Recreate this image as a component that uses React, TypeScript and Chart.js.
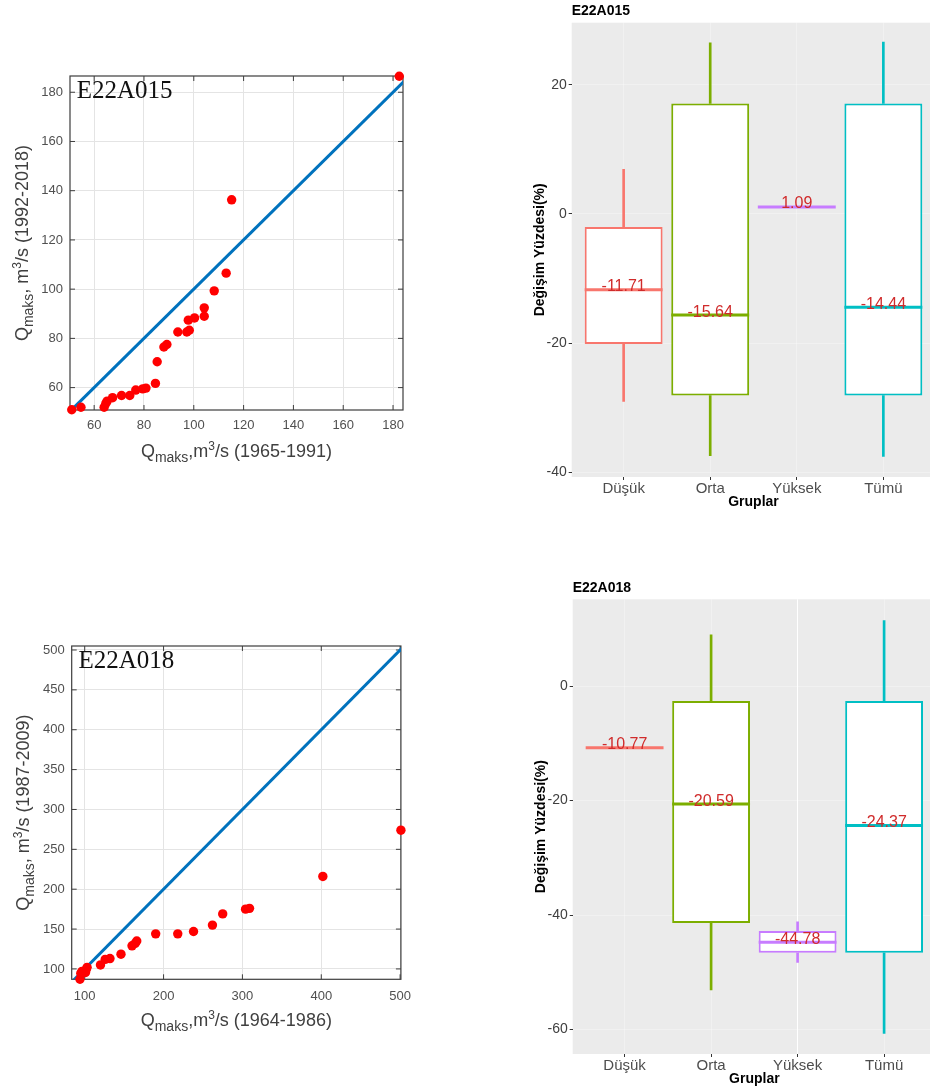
import React, { useEffect, useRef } from "react";
import { Chart, registerables } from "chart.js";
Chart.register(...registerables);

const SANS = '"Liberation Sans", Arial, sans-serif';
const SERIF = '"Liberation Serif", "Times New Roman", serif';

// ---------- Scatter panel A : E22A015 ----------
const scatterATitle = "E22A015";
const scatterAX = [51, 54.7, 64, 64.7, 65.2, 67.4, 71, 74.3, 76.7, 79.5, 80.8, 84.6, 85.3, 88, 89.2, 93.6, 97.2, 98.2, 97.8, 100.3, 104.2, 104.2, 108.2, 113, 115.2, 182.5];
const scatterAY = [51, 52, 52, 53.6, 54.5, 55.9, 56.8, 56.8, 59, 59.5, 59.8, 61.7, 70.5, 76.5, 77.5, 82.6, 82.6, 83.3, 87.4, 88.3, 89, 92.4, 99.3, 106.5, 136.3, 186.5];
const scatterAXTicks = [60, 80, 100, 120, 140, 160, 180];
const scatterAYTicks = [60, 80, 100, 120, 140, 160, 180];
const scatterAXRange = [50.3, 184];
const scatterAYRange = [50.9, 186.6];
const scatterALine = [50, 190];
const scatterAXLabel = ["Q", "maks", ",m", "3", "/s (1965-1991)"];
const scatterAYLabel = ["Q", "maks", ", m", "3", "/s (1992-2018)"];

// ---------- Scatter panel B : E22A018 ----------
const scatterBTitle = "E22A018";
const scatterBX = [94, 95, 96.5, 101, 102, 103, 120, 126, 132, 146, 160, 164, 166, 190, 218, 238, 262, 275, 304, 309, 402, 501];
const scatterBY = [87, 94.5, 97, 95.5, 99.5, 102, 105, 112, 113, 118.5, 129, 132, 135, 144, 144, 147, 155, 169, 175, 176, 216, 274];
const scatterBXTicks = [100, 200, 300, 400, 500];
const scatterBYTicks = [100, 150, 200, 250, 300, 350, 400, 450, 500];
const scatterBXRange = [83.5, 501];
const scatterBYRange = [87, 505];
const scatterBLine = [80, 510];
const scatterBXLabel = ["Q", "maks", ",m", "3", "/s (1964-1986)"];
const scatterBYLabel = ["Q", "maks", ", m", "3", "/s (1987-2009)"];

// ---------- Box plots ----------
const groups = ["Düşük", "Orta", "Yüksek", "Tümü"];
const groupColors = ["#F8766D", "#7CAE00", "#C77CFF", "#00BFC4"];
const boxYTitle = "Değişim Yüzdesi(%)";
const boxXTitle = "Gruplar";

const boxATitle = "E22A015";
const boxALow: (number | null)[] = [-29.0, -37.4, null, -37.5];
const boxAQ1: (number | null)[] = [-20.1, -28.1, null, -28.1];
const boxAMedian = [-11.71, -15.64, 1.09, -14.44];
const boxAQ3: (number | null)[] = [-2.0, 17.1, null, 17.1];
const boxAHigh: (number | null)[] = [6.9, 26.5, null, 26.6];
const boxAYTicks = [-40, -20, 0, 20];
const boxAYRange = [-40.7, 29.6];

const boxBTitle = "E22A018";
const boxBLow: (number | null)[] = [null, -53.1, -48.3, -60.7];
const boxBQ1: (number | null)[] = [null, -41.4, -46.6, -46.6];
const boxBMedian = [-10.77, -20.59, -44.78, -24.37];
const boxBQ3: (number | null)[] = [null, -2.6, -42.8, -2.6];
const boxBHigh: (number | null)[] = [null, 9.0, -41.2, 11.5];
const boxBYTicks = [-60, -40, -20, 0];
const boxBYRange = [-64.3, 15.2];

// ---------- helpers ----------
function drawRich(ctx: CanvasRenderingContext2D, parts: string[], cx: number, cy: number, rot: number, color: string) {
  const segs = [
    { t: parts[0], size: 18, dy: 0 },
    { t: parts[1], size: 14, dy: 5 },
    { t: parts[2], size: 18, dy: 0 },
    { t: parts[3], size: 12, dy: -7 },
    { t: parts[4], size: 18, dy: 0 },
  ];
  ctx.save();
  ctx.translate(cx, cy);
  ctx.rotate(rot);
  ctx.fillStyle = color;
  ctx.textAlign = "left";
  ctx.textBaseline = "alphabetic";
  let total = 0;
  const ws = segs.map((s) => {
    ctx.font = `${s.size}px ${SANS}`;
    const w = ctx.measureText(s.t).width;
    total += w;
    return w;
  });
  let x = -total / 2;
  segs.forEach((s, i) => {
    ctx.font = `${s.size}px ${SANS}`;
    ctx.fillText(s.t, x, s.dy);
    x += ws[i];
  });
  ctx.restore();
}

type ScatterSpec = {
  title: string; xs: number[]; ys: number[]; xTicks: number[]; yTicks: number[];
  xRange: number[]; yRange: number[]; line: number[]; xLabel: string[]; yLabel: string[];
  padTop: number; padRight: number; yW: number; xH: number; tickSize: number; xPad: number;
};

function scatterConfig(s: ScatterSpec): any {
  const deco = {
    id: "scatterDeco",
    beforeDatasetsDraw(chart: any) {
      const { ctx, chartArea: a, scales } = chart;
      ctx.save();
      ctx.strokeStyle = "#3d3d3d";
      ctx.lineWidth = 1.2;
      ctx.strokeRect(a.left, a.top, a.right - a.left, a.bottom - a.top);
      ctx.lineWidth = 1;
      ctx.beginPath();
      s.xTicks.forEach((v) => {
        const px = scales.x.getPixelForValue(v);
        ctx.moveTo(px, a.bottom); ctx.lineTo(px, a.bottom - 5);
        ctx.moveTo(px, a.top); ctx.lineTo(px, a.top + 5);
      });
      s.yTicks.forEach((v) => {
        const py = scales.y.getPixelForValue(v);
        ctx.moveTo(a.left, py); ctx.lineTo(a.left + 5, py);
        ctx.moveTo(a.right, py); ctx.lineTo(a.right - 5, py);
      });
      ctx.stroke();
      ctx.restore();
    },
    afterDraw(chart: any) {
      const { ctx, chartArea: a } = chart;
      ctx.save();
      ctx.font = `25px ${SERIF}`;
      ctx.fillStyle = "#111";
      ctx.textAlign = "left";
      ctx.textBaseline = "alphabetic";
      ctx.fillText(s.title, a.left + 6.7, a.top + 22.3);
      ctx.restore();
      drawRich(ctx, s.xLabel, (a.left + a.right) / 2, a.bottom + 47, 0, "#404040");
      drawRich(ctx, s.yLabel, a.left - 42.5, (a.top + a.bottom) / 2, -Math.PI / 2, "#404040");
    },
  };
  return {
    type: "scatter",
    data: {
      datasets: [
        {
          type: "line",
          data: s.line.map((v) => ({ x: v, y: v })),
          borderColor: "#0072BD",
          borderWidth: 3,
          pointRadius: 0,
          order: 2,
        },
        {
          type: "scatter",
          data: s.xs.map((x, i) => ({ x, y: s.ys[i] })),
          backgroundColor: "#FF0000",
          borderWidth: 0,
          pointRadius: 4.7,
          order: 1,
          clip: false,
        },
      ],
    },
    options: {
      animation: false,
      responsive: false,
      events: [],
      layout: { padding: { left: 0, top: s.padTop, right: s.padRight, bottom: 0 } },
      plugins: { legend: { display: false }, tooltip: { enabled: false } },
      scales: {
        x: {
          type: "linear",
          min: s.xRange[0],
          max: s.xRange[1],
          afterBuildTicks: (sc: any) => { sc.ticks = s.xTicks.map((v) => ({ value: v })); },
          afterFit: (sc: any) => { sc.height = s.xH; },
          grid: { color: "#E4E4E4", drawTicks: false },
          border: { display: false },
          ticks: { color: "#505050", font: { family: SANS, size: s.tickSize }, padding: s.xPad, maxRotation: 0 },
        },
        y: {
          type: "linear",
          min: s.yRange[0],
          max: s.yRange[1],
          afterBuildTicks: (sc: any) => { sc.ticks = s.yTicks.map((v) => ({ value: v })); },
          afterFit: (sc: any) => { sc.width = s.yW; },
          grid: { color: "#E4E4E4", drawTicks: false },
          border: { display: false },
          ticks: { color: "#505050", font: { family: SANS, size: s.tickSize }, padding: 7 },
        },
      },
    },
    plugins: [deco],
  };
}

type BoxSpec = {
  title: string; low: (number | null)[]; q1: (number | null)[]; median: number[];
  q3: (number | null)[]; high: (number | null)[]; yTicks: number[]; yRange: number[];
  padTop: number; padRight: number; yW: number; xH: number; brightGrid: number | null;
};

function boxConfig(b: BoxSpec): any {
  const ranges = (lo: (number | null)[], hi: (number | null)[]) =>
    groups
      .map((_, i) => (lo[i] == null || hi[i] == null ? null : { x: i + 1, y: [lo[i] as number, hi[i] as number] }))
      .filter((d) => d !== null);
  const colorOf = (ctx: any) => (ctx.raw ? groupColors[ctx.raw.x - 1] : "#000");
  const deco = {
    id: "boxDeco",
    beforeDraw(chart: any) {
      const { ctx, chartArea: a } = chart;
      ctx.save();
      ctx.fillStyle = "#EBEBEB";
      ctx.fillRect(a.left, a.top, a.right - a.left, a.bottom - a.top);
      ctx.restore();
    },
    afterDatasetsDraw(chart: any) {
      const { ctx, scales } = chart;
      const unit = scales.x.getPixelForValue(2) - scales.x.getPixelForValue(1);
      ctx.save();
      b.median.forEach((m, i) => {
        const cx = scales.x.getPixelForValue(i + 1);
        const my = scales.y.getPixelForValue(m);
        ctx.strokeStyle = groupColors[i];
        ctx.lineWidth = 3;
        ctx.beginPath();
        ctx.moveTo(cx - 0.45 * unit, my);
        ctx.lineTo(cx + 0.45 * unit, my);
        ctx.stroke();
      });
      ctx.font = `16px ${SANS}`;
      ctx.fillStyle = "#D02B2B";
      ctx.textAlign = "center";
      ctx.textBaseline = "alphabetic";
      b.median.forEach((m, i) => {
        const cx = scales.x.getPixelForValue(i + 1);
        const my = scales.y.getPixelForValue(m);
        ctx.fillText(m.toFixed(2), cx, my + 1.5);
      });
      ctx.restore();
    },
    afterDraw(chart: any) {
      const { ctx, chartArea: a } = chart;
      ctx.save();
      ctx.fillStyle = "#000";
      ctx.font = `bold 14px ${SANS}`;
      ctx.textAlign = "left";
      ctx.textBaseline = "alphabetic";
      ctx.fillText(b.title, a.left, a.top - 7.7);
      ctx.textAlign = "center";
      ctx.textBaseline = "middle";
      ctx.fillText(boxXTitle, (a.left + a.right) / 2, a.bottom + 25);
      ctx.translate(a.left - 31.7, (a.top + a.bottom) / 2);
      ctx.rotate(-Math.PI / 2);
      ctx.fillText(boxYTitle, 0, 0);
      ctx.restore();
    },
  };
  const faint = "rgba(255,255,255,0.3)";
  return {
    type: "bar",
    data: {
      datasets: [
        { data: ranges(b.q3, b.high), backgroundColor: colorOf, borderWidth: 0, barThickness: 2, grouped: false },
        { data: ranges(b.low, b.q1), backgroundColor: colorOf, borderWidth: 0, barThickness: 2, grouped: false },
        {
          data: ranges(b.q1, b.q3),
          backgroundColor: "#FFFFFF",
          borderColor: colorOf,
          borderWidth: 2,
          borderSkipped: false,
          barPercentage: 0.9,
          categoryPercentage: 1,
          grouped: false,
        },
      ],
    },
    options: {
      animation: false,
      responsive: false,
      events: [],
      layout: { padding: { left: 0, top: b.padTop, right: b.padRight, bottom: 0 } },
      plugins: { legend: { display: false }, tooltip: { enabled: false } },
      scales: {
        x: {
          type: "linear",
          min: 0.4,
          max: 4.6,
          offset: false,
          afterBuildTicks: (sc: any) => { sc.ticks = groups.map((_, i) => ({ value: i + 1 })); },
          afterFit: (sc: any) => { sc.height = b.xH; },
          grid: {
            offset: false,
            color: (c: any) => (b.brightGrid != null && c.tick && c.tick.value === b.brightGrid ? "#FFFFFF" : faint),
            tickColor: "#333333",
            tickLength: 3,
          },
          border: { display: false },
          ticks: {
            autoSkip: false,
            maxRotation: 0,
            padding: 0,
            color: "#4D4D4D",
            font: { family: SANS, size: 15 },
            callback: (v: any) => groups[Math.round(v) - 1] ?? "",
          },
        },
        y: {
          type: "linear",
          min: b.yRange[0],
          max: b.yRange[1],
          afterBuildTicks: (sc: any) => { sc.ticks = b.yTicks.map((v) => ({ value: v })); },
          afterFit: (sc: any) => { sc.width = b.yW; },
          grid: { color: faint, tickColor: "#333333", tickLength: 3 },
          border: { display: false },
          ticks: { padding: 2, color: "#3F3F3F", font: { family: SANS, size: 14 } },
        },
      },
    },
    plugins: [deco],
  };
}

function Panel({ left, top, width, height, make }: { left: number; top: number; width: number; height: number; make: () => any }) {
  const ref = useRef<HTMLCanvasElement | null>(null);
  useEffect(() => {
    if (!ref.current) return;
    const chart = new Chart(ref.current, make());
    return () => chart.destroy();
  }, []);
  return (
    <div style={{ position: "absolute", left, top, width, height }}>
      <canvas ref={ref} width={width} height={height} style={{ display: "block", width, height }} />
    </div>
  );
}

export default function App() {
  return (
    <div style={{ position: "absolute", left: 0, top: 0, width: 930, height: 1088, overflow: "hidden", background: "#FFFFFF" }}>
      <Panel
        left={0} top={60} width={420} height={410}
        make={() =>
          scatterConfig({
            title: scatterATitle, xs: scatterAX, ys: scatterAY, xTicks: scatterAXTicks, yTicks: scatterAYTicks,
            xRange: scatterAXRange, yRange: scatterAYRange, line: scatterALine, xLabel: scatterAXLabel, yLabel: scatterAYLabel,
            padTop: 16, padRight: 17, yW: 70, xH: 60, tickSize: 13, xPad: 8,
          })
        }
      />
      <Panel
        left={0} top={630} width={420} height={458}
        make={() =>
          scatterConfig({
            title: scatterBTitle, xs: scatterBX, ys: scatterBY, xTicks: scatterBXTicks, yTicks: scatterBYTicks,
            xRange: scatterBXRange, yRange: scatterBYRange, line: scatterBLine, xLabel: scatterBXLabel, yLabel: scatterBYLabel,
            padTop: 16, padRight: 15, yW: 71.7, xH: 108.7, tickSize: 13, xPad: 9,
          })
        }
      />
      <Panel
        left={520} top={0} width={416} height={520}
        make={() =>
          boxConfig({
            title: boxATitle, low: boxALow, q1: boxAQ1, median: boxAMedian, q3: boxAQ3, high: boxAHigh,
            yTicks: boxAYTicks, yRange: boxAYRange, padTop: 22.7, padRight: 0.7, yW: 51.7, xH: 43, brightGrid: null,
          })
        }
      />
      <Panel
        left={520} top={570} width={416} height={518}
        make={() =>
          boxConfig({
            title: boxBTitle, low: boxBLow, q1: boxBQ1, median: boxBMedian, q3: boxBQ3, high: boxBHigh,
            yTicks: boxBYTicks, yRange: boxBYRange, padTop: 29.3, padRight: 0, yW: 52.7, xH: 34, brightGrid: 3,
          })
        }
      />
    </div>
  );
}
